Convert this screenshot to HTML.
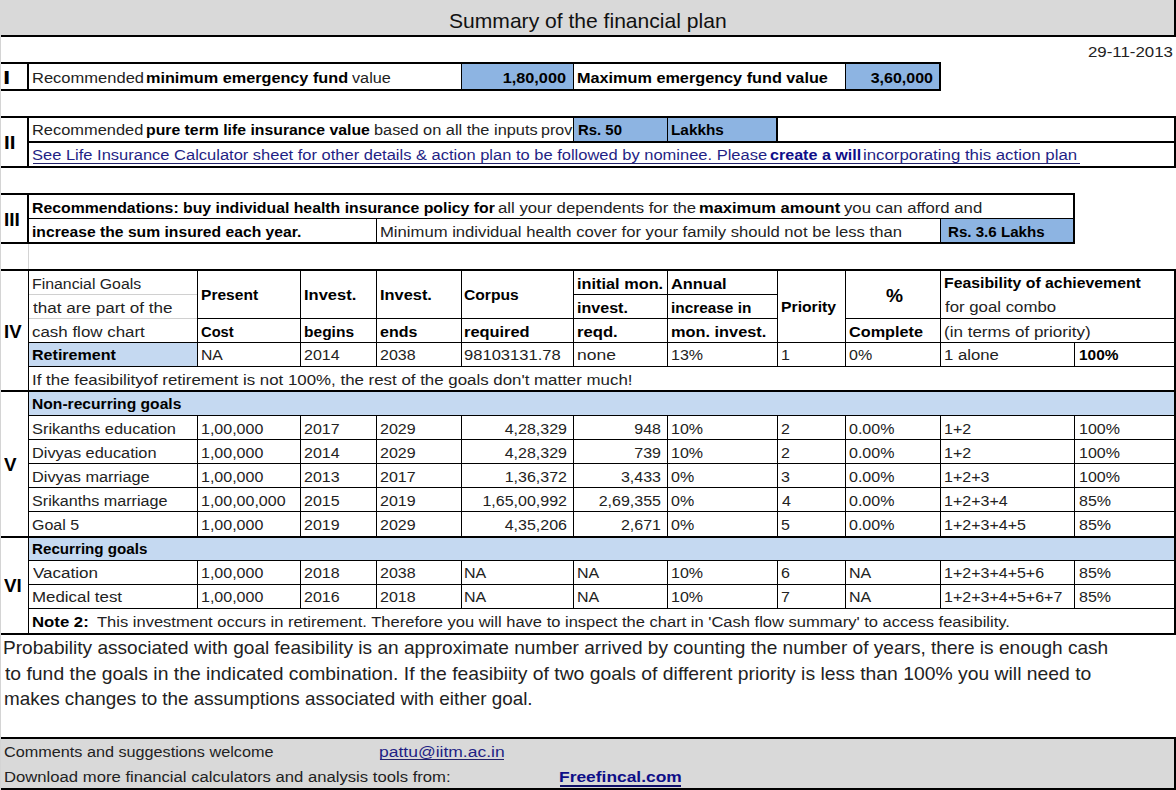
<!DOCTYPE html>
<html><head><meta charset="utf-8"><style>
html,body{margin:0;padding:0;background:#fff;width:1176px;height:790px;overflow:hidden;position:relative;}
body>div{position:absolute;}
.t{font-family:'Liberation Sans', sans-serif;white-space:pre;}
u{text-decoration:underline;text-decoration-thickness:1px;text-underline-offset:2px;}

</style></head><body>
<div style="left:0px;top:0px;width:1176px;height:35px;background:#d9d9d9;"></div>
<div style="left:1px;top:35px;width:1175px;height:2px;background:#000;"></div>
<div style="left:1174px;top:0px;width:2px;height:37px;background:#000;"></div>
<div style="left:0px;top:35px;width:1px;height:755px;background:#d4d4d4;"></div>
<div style="left:1px;top:62px;width:940px;height:2px;background:#000;"></div>
<div style="left:1px;top:89px;width:940px;height:2px;background:#000;"></div>
<div style="left:27px;top:62px;width:2px;height:29px;background:#000;"></div>
<div style="left:462px;top:64px;width:111px;height:25px;background:#8db4e2;"></div>
<div style="left:461px;top:64px;width:1px;height:25px;background:#000;"></div>
<div style="left:573px;top:64px;width:1px;height:25px;background:#000;"></div>
<div style="left:846px;top:64px;width:93px;height:25px;background:#8db4e2;"></div>
<div style="left:845px;top:64px;width:1px;height:25px;background:#000;"></div>
<div style="left:939px;top:62px;width:2px;height:29px;background:#000;"></div>
<div style="left:1px;top:116px;width:1175px;height:2px;background:#000;"></div>
<div style="left:29px;top:141px;width:1147px;height:2px;background:#000;"></div>
<div style="left:1px;top:166px;width:1175px;height:2px;background:#000;"></div>
<div style="left:27px;top:116px;width:2px;height:52px;background:#000;"></div>
<div style="left:1174px;top:116px;width:2px;height:52px;background:#000;"></div>
<div style="left:574px;top:118px;width:93px;height:23px;background:#8db4e2;z-index:2;"></div>
<div style="left:573px;top:118px;width:1px;height:23px;background:#000;z-index:2;"></div>
<div style="left:668px;top:118px;width:108px;height:23px;background:#8db4e2;z-index:2;"></div>
<div style="left:667px;top:118px;width:1px;height:23px;background:#000;z-index:2;"></div>
<div style="left:776px;top:116px;width:2px;height:27px;background:#000;z-index:2;"></div>
<div style="left:33px;top:163px;width:1047px;height:1px;background:#22226a;"></div>
<div style="left:1px;top:193px;width:1074px;height:2px;background:#000;"></div>
<div style="left:29px;top:218px;width:1045px;height:1px;background:#000;"></div>
<div style="left:1px;top:242px;width:1074px;height:2px;background:#000;"></div>
<div style="left:27px;top:193px;width:2px;height:51px;background:#000;"></div>
<div style="left:1073px;top:193px;width:2px;height:51px;background:#000;"></div>
<div style="left:376px;top:219px;width:1px;height:23px;background:#000;"></div>
<div style="left:941px;top:219px;width:132px;height:23px;background:#8db4e2;"></div>
<div style="left:940px;top:219px;width:1px;height:23px;background:#000;"></div>
<div style="left:28px;top:244px;width:1px;height:25px;background:#d4d4d4;"></div>
<div style="left:1px;top:269px;width:1175px;height:2px;background:#000;"></div>
<div style="left:29px;top:343px;width:168px;height:23px;background:#c5d9f1;"></div>
<div style="left:29px;top:392px;width:1145px;height:23px;background:#c5d9f1;"></div>
<div style="left:29px;top:538px;width:1145px;height:22px;background:#c5d9f1;"></div>
<div style="left:28px;top:271px;width:1px;height:362px;background:#000;"></div>
<div style="left:1174px;top:269px;width:2px;height:366px;background:#000;"></div>
<div style="left:29px;top:294px;width:168px;height:1px;background:#d0d0d0;"></div>
<div style="left:29px;top:318px;width:168px;height:1px;background:#d0d0d0;"></div>
<div style="left:573px;top:294px;width:204px;height:1px;background:#000;"></div>
<div style="left:197px;top:318px;width:580px;height:1px;background:#000;"></div>
<div style="left:845px;top:318px;width:329px;height:1px;background:#000;"></div>
<div style="left:197px;top:271px;width:1px;height:72px;background:#000;"></div>
<div style="left:300px;top:271px;width:1px;height:72px;background:#000;"></div>
<div style="left:376px;top:271px;width:1px;height:72px;background:#000;"></div>
<div style="left:461px;top:271px;width:1px;height:72px;background:#000;"></div>
<div style="left:573px;top:271px;width:1px;height:72px;background:#000;"></div>
<div style="left:667px;top:271px;width:1px;height:72px;background:#000;"></div>
<div style="left:777px;top:271px;width:1px;height:72px;background:#000;"></div>
<div style="left:845px;top:271px;width:1px;height:72px;background:#000;"></div>
<div style="left:940px;top:271px;width:1px;height:72px;background:#000;"></div>
<div style="left:28px;top:342px;width:1146px;height:1px;background:#000;"></div>
<div style="left:28px;top:366px;width:1146px;height:1px;background:#000;"></div>
<div style="left:1px;top:390px;width:1175px;height:2px;background:#000;"></div>
<div style="left:28px;top:415px;width:1146px;height:1px;background:#000;"></div>
<div style="left:28px;top:439px;width:1146px;height:1px;background:#000;"></div>
<div style="left:28px;top:463px;width:1146px;height:1px;background:#000;"></div>
<div style="left:28px;top:487px;width:1146px;height:1px;background:#000;"></div>
<div style="left:28px;top:511px;width:1146px;height:1px;background:#000;"></div>
<div style="left:1px;top:536px;width:1175px;height:2px;background:#000;"></div>
<div style="left:28px;top:560px;width:1146px;height:1px;background:#000;"></div>
<div style="left:28px;top:584px;width:1146px;height:1px;background:#000;"></div>
<div style="left:28px;top:608px;width:1146px;height:1px;background:#000;"></div>
<div style="left:1px;top:633px;width:1175px;height:2px;background:#000;"></div>
<div style="left:197px;top:343px;width:1px;height:23px;background:#000;"></div>
<div style="left:197px;top:416px;width:1px;height:120px;background:#000;"></div>
<div style="left:197px;top:561px;width:1px;height:47px;background:#000;"></div>
<div style="left:300px;top:343px;width:1px;height:23px;background:#000;"></div>
<div style="left:300px;top:416px;width:1px;height:120px;background:#000;"></div>
<div style="left:300px;top:561px;width:1px;height:47px;background:#000;"></div>
<div style="left:376px;top:343px;width:1px;height:23px;background:#000;"></div>
<div style="left:376px;top:416px;width:1px;height:120px;background:#000;"></div>
<div style="left:376px;top:561px;width:1px;height:47px;background:#000;"></div>
<div style="left:461px;top:343px;width:1px;height:23px;background:#000;"></div>
<div style="left:461px;top:416px;width:1px;height:120px;background:#000;"></div>
<div style="left:461px;top:561px;width:1px;height:47px;background:#000;"></div>
<div style="left:573px;top:343px;width:1px;height:23px;background:#000;"></div>
<div style="left:573px;top:416px;width:1px;height:120px;background:#000;"></div>
<div style="left:573px;top:561px;width:1px;height:47px;background:#000;"></div>
<div style="left:667px;top:343px;width:1px;height:23px;background:#000;"></div>
<div style="left:667px;top:416px;width:1px;height:120px;background:#000;"></div>
<div style="left:667px;top:561px;width:1px;height:47px;background:#000;"></div>
<div style="left:777px;top:343px;width:1px;height:23px;background:#000;"></div>
<div style="left:777px;top:416px;width:1px;height:120px;background:#000;"></div>
<div style="left:777px;top:561px;width:1px;height:47px;background:#000;"></div>
<div style="left:845px;top:343px;width:1px;height:23px;background:#000;"></div>
<div style="left:845px;top:416px;width:1px;height:120px;background:#000;"></div>
<div style="left:845px;top:561px;width:1px;height:47px;background:#000;"></div>
<div style="left:940px;top:343px;width:1px;height:23px;background:#000;"></div>
<div style="left:940px;top:416px;width:1px;height:120px;background:#000;"></div>
<div style="left:940px;top:561px;width:1px;height:47px;background:#000;"></div>
<div style="left:1074px;top:343px;width:1px;height:23px;background:#000;"></div>
<div style="left:1074px;top:416px;width:1px;height:120px;background:#000;"></div>
<div style="left:1074px;top:561px;width:1px;height:47px;background:#000;"></div>
<div style="left:1px;top:739px;width:1173px;height:49px;background:#d9d9d9;"></div>
<div style="left:1px;top:737px;width:1175px;height:2px;background:#000;"></div>
<div style="left:1174px;top:737px;width:2px;height:53px;background:#000;"></div>
<div style="left:1px;top:788px;width:1175px;height:2px;background:#000;"></div>
<div style="left:380px;top:759px;width:124px;height:1px;background:#22226a;"></div>
<div style="left:560px;top:785px;width:121px;height:2px;background:#10106a;"></div>
<div class="t" id="t0" style="left:449.00px;top:7.22px;font-size:21px;line-height:27px;color:#111;z-index:1;transform:scaleX(1.0036);transform-origin:0 0;"><span>Summary of the financial plan</span></div>
<div class="t" id="t1" style="left:1088.20px;top:41.83px;font-size:15.5px;line-height:20px;color:#222;z-index:1;transform:scaleX(1.0869);transform-origin:0 0;"><span>29-11-2013</span></div>
<div class="t" id="t2" style="left:3.00px;top:67.24px;font-size:17.5px;line-height:22px;color:#000;font-weight:bold;z-index:1;transform:scaleX(1.5000);transform-origin:0 0;"><span>I</span></div>
<div class="t" id="t3" style="left:32.00px;top:67.63px;font-size:15.5px;line-height:20px;color:#222;z-index:1;transform:scaleX(1.0657);transform-origin:0 0;"><span>Recommended</span></div>
<div class="t" id="t4" style="left:145.80px;top:67.63px;font-size:15.5px;line-height:20px;color:#000;font-weight:bold;z-index:1;transform:scaleX(1.0474);transform-origin:0 0;"><span>minimum emergency fund</span></div>
<div class="t" id="t5" style="left:352.40px;top:67.63px;font-size:15.5px;line-height:20px;color:#222;z-index:1;transform:scaleX(1.0478);transform-origin:0 0;"><span>value</span></div>
<div class="t" id="t6" style="left:-33.80px;top:67.63px;font-size:15.5px;line-height:20px;color:#000;font-weight:bold;z-index:1;width:600px;text-align:right;transform:scaleX(1.0501);transform-origin:100% 0;"><span>1,80,000</span></div>
<div class="t" id="t7" style="left:577.20px;top:67.63px;font-size:15.5px;line-height:20px;color:#000;font-weight:bold;z-index:1;transform:scaleX(1.0475);transform-origin:0 0;"><span>Maximum emergency fund value</span></div>
<div class="t" id="t8" style="left:333.00px;top:67.63px;font-size:15.5px;line-height:20px;color:#000;font-weight:bold;z-index:1;width:600px;text-align:right;transform:scaleX(1.0323);transform-origin:100% 0;"><span>3,60,000</span></div>
<div class="t" id="t9" style="left:3.80px;top:131.84px;font-size:17.5px;line-height:22px;color:#000;font-weight:bold;z-index:1;transform:scaleX(1.1779);transform-origin:0 0;"><span>II</span></div>
<div class="t" id="t10" style="left:32.00px;top:119.63px;font-size:15.5px;line-height:20px;color:#222;z-index:1;transform:scaleX(1.0588);transform-origin:0 0;"><span>Recommended</span></div>
<div class="t" id="t11" style="left:146.00px;top:119.63px;font-size:15.5px;line-height:20px;color:#000;font-weight:bold;z-index:1;transform:scaleX(1.0189);transform-origin:0 0;"><span>pure term life insurance value</span></div>
<div class="t" id="t12" style="left:374.20px;top:119.63px;font-size:15.5px;line-height:20px;color:#222;z-index:1;transform:scaleX(1.0549);transform-origin:0 0;"><span>based on all the inputs</span></div>
<div class="t" id="t13" style="left:540.80px;top:119.63px;font-size:15.5px;line-height:20px;color:#222;z-index:1;transform:scaleX(1.0323);transform-origin:0 0;"><span>provided</span></div>
<div class="t" id="t14" style="left:577.60px;top:119.63px;font-size:15.5px;line-height:20px;color:#000;font-weight:bold;z-index:3;transform:scaleX(0.9619);transform-origin:0 0;"><span>Rs. 50</span></div>
<div class="t" id="t15" style="left:670.80px;top:119.63px;font-size:15.5px;line-height:20px;color:#000;font-weight:bold;z-index:3;transform:scaleX(0.9884);transform-origin:0 0;"><span>Lakkhs</span></div>
<div class="t" id="t16" style="left:32.00px;top:144.93px;font-size:15.5px;line-height:20px;color:#1f1f85;z-index:1;transform:scaleX(1.0637);transform-origin:0 0;"><span>See Life Insurance Calculator sheet for other details &amp; action plan to be followed by nominee. Please</span></div>
<div class="t" id="t17" style="left:769.80px;top:144.93px;font-size:15.5px;line-height:20px;color:#0e0e88;font-weight:bold;z-index:1;transform:scaleX(1.0385);transform-origin:0 0;"><span>create a will</span></div>
<div class="t" id="t18" style="left:863.00px;top:144.93px;font-size:15.5px;line-height:20px;color:#1f1f85;z-index:1;transform:scaleX(1.0851);transform-origin:0 0;"><span>incorporating this action plan</span></div>
<div class="t" id="t19" style="left:3.80px;top:209.14px;font-size:17.5px;line-height:22px;color:#000;font-weight:bold;z-index:1;transform:scaleX(1.0912);transform-origin:0 0;"><span>III</span></div>
<div class="t" id="t20" style="left:32.00px;top:197.83px;font-size:15.5px;line-height:20px;color:#000;font-weight:bold;z-index:1;transform:scaleX(1.0197);transform-origin:0 0;"><span>Recommendations: buy individual health insurance policy for</span></div>
<div class="t" id="t21" style="left:498.20px;top:197.83px;font-size:15.5px;line-height:20px;color:#222;z-index:1;transform:scaleX(1.0797);transform-origin:0 0;"><span>all your dependents for the</span></div>
<div class="t" id="t22" style="left:699.00px;top:197.83px;font-size:15.5px;line-height:20px;color:#000;font-weight:bold;z-index:1;transform:scaleX(1.0642);transform-origin:0 0;"><span>maximum amount</span></div>
<div class="t" id="t23" style="left:844.20px;top:197.83px;font-size:15.5px;line-height:20px;color:#222;z-index:1;transform:scaleX(1.0786);transform-origin:0 0;"><span>you can afford and</span></div>
<div class="t" id="t24" style="left:31.60px;top:221.83px;font-size:15.5px;line-height:20px;color:#000;font-weight:bold;z-index:1;transform:scaleX(1.0118);transform-origin:0 0;"><span>increase the sum insured each year.</span></div>
<div class="t" id="t25" style="left:380.20px;top:221.83px;font-size:15.5px;line-height:20px;color:#222;z-index:1;transform:scaleX(1.0741);transform-origin:0 0;"><span>Minimum individual health cover for your family should not be less than</span></div>
<div class="t" id="t26" style="left:948.20px;top:221.83px;font-size:15.5px;line-height:20px;color:#000;font-weight:bold;z-index:1;transform:scaleX(0.9751);transform-origin:0 0;"><span>Rs. 3.6 Lakhs</span></div>
<div class="t" id="t27" style="left:4.40px;top:321.04px;font-size:17.5px;line-height:22px;color:#000;font-weight:bold;z-index:1;transform:scaleX(1.0612);transform-origin:0 0;"><span>IV</span></div>
<div class="t" id="t28" style="left:31.80px;top:273.83px;font-size:15.5px;line-height:20px;color:#222;z-index:1;transform:scaleX(1.0220);transform-origin:0 0;"><span>Financial Goals</span></div>
<div class="t" id="t29" style="left:33.00px;top:297.83px;font-size:15.5px;line-height:20px;color:#222;z-index:1;transform:scaleX(1.1016);transform-origin:0 0;"><span>that are part of the</span></div>
<div class="t" id="t30" style="left:32.00px;top:321.83px;font-size:15.5px;line-height:20px;color:#222;z-index:1;transform:scaleX(1.0911);transform-origin:0 0;"><span>cash flow chart</span></div>
<div class="t" id="t31" style="left:201.20px;top:284.83px;font-size:15.5px;line-height:20px;color:#000;font-weight:bold;z-index:1;transform:scaleX(1.0037);transform-origin:0 0;"><span>Present</span></div>
<div class="t" id="t32" style="left:201.20px;top:321.83px;font-size:15.5px;line-height:20px;color:#000;font-weight:bold;z-index:1;transform:scaleX(0.9495);transform-origin:0 0;"><span>Cost</span></div>
<div class="t" id="t33" style="left:303.60px;top:284.83px;font-size:15.5px;line-height:20px;color:#000;font-weight:bold;z-index:1;transform:scaleX(1.0632);transform-origin:0 0;"><span>Invest.</span></div>
<div class="t" id="t34" style="left:303.60px;top:321.83px;font-size:15.5px;line-height:20px;color:#000;font-weight:bold;z-index:1;transform:scaleX(1.0022);transform-origin:0 0;"><span>begins</span></div>
<div class="t" id="t35" style="left:379.80px;top:284.83px;font-size:15.5px;line-height:20px;color:#000;font-weight:bold;z-index:1;transform:scaleX(1.0567);transform-origin:0 0;"><span>Invest.</span></div>
<div class="t" id="t36" style="left:379.80px;top:321.83px;font-size:15.5px;line-height:20px;color:#000;font-weight:bold;z-index:1;transform:scaleX(1.0327);transform-origin:0 0;"><span>ends</span></div>
<div class="t" id="t37" style="left:464.40px;top:284.83px;font-size:15.5px;line-height:20px;color:#000;font-weight:bold;z-index:1;transform:scaleX(1.0079);transform-origin:0 0;"><span>Corpus</span></div>
<div class="t" id="t38" style="left:464.40px;top:321.83px;font-size:15.5px;line-height:20px;color:#000;font-weight:bold;z-index:1;transform:scaleX(1.0585);transform-origin:0 0;"><span>required</span></div>
<div class="t" id="t39" style="left:576.80px;top:273.83px;font-size:15.5px;line-height:20px;color:#000;font-weight:bold;z-index:1;transform:scaleX(1.0532);transform-origin:0 0;"><span>initial mon.</span></div>
<div class="t" id="t40" style="left:576.80px;top:297.83px;font-size:15.5px;line-height:20px;color:#000;font-weight:bold;z-index:1;transform:scaleX(1.0370);transform-origin:0 0;"><span>invest.</span></div>
<div class="t" id="t41" style="left:576.80px;top:321.83px;font-size:15.5px;line-height:20px;color:#000;font-weight:bold;z-index:1;transform:scaleX(1.0747);transform-origin:0 0;"><span>reqd.</span></div>
<div class="t" id="t42" style="left:671.00px;top:273.83px;font-size:15.5px;line-height:20px;color:#000;font-weight:bold;z-index:1;transform:scaleX(1.0577);transform-origin:0 0;"><span>Annual</span></div>
<div class="t" id="t43" style="left:671.00px;top:297.83px;font-size:15.5px;line-height:20px;color:#000;font-weight:bold;z-index:1;transform:scaleX(0.9923);transform-origin:0 0;"><span>increase in</span></div>
<div class="t" id="t44" style="left:671.00px;top:321.83px;font-size:15.5px;line-height:20px;color:#000;font-weight:bold;z-index:1;transform:scaleX(1.0535);transform-origin:0 0;"><span>mon. invest.</span></div>
<div class="t" id="t45" style="left:780.80px;top:297.43px;font-size:15.5px;line-height:20px;color:#000;font-weight:bold;z-index:1;transform:scaleX(1.0156);transform-origin:0 0;"><span>Priority</span></div>
<div class="t" id="t46" style="left:885.80px;top:283.52px;font-size:19px;line-height:24px;color:#000;font-weight:bold;z-index:1;transform:scaleX(1.0078);transform-origin:0 0;"><span>%</span></div>
<div class="t" id="t47" style="left:849.00px;top:321.83px;font-size:15.5px;line-height:20px;color:#000;font-weight:bold;z-index:1;transform:scaleX(1.0471);transform-origin:0 0;"><span>Complete</span></div>
<div class="t" id="t48" style="left:944.40px;top:272.83px;font-size:15.5px;line-height:20px;color:#000;font-weight:bold;z-index:1;transform:scaleX(1.0204);transform-origin:0 0;"><span>Feasibility of achievement</span></div>
<div class="t" id="t49" style="left:945.40px;top:296.83px;font-size:15.5px;line-height:20px;color:#222;z-index:1;transform:scaleX(1.0832);transform-origin:0 0;"><span>for goal combo</span></div>
<div class="t" id="t50" style="left:944.40px;top:321.83px;font-size:15.5px;line-height:20px;color:#222;z-index:1;transform:scaleX(1.0985);transform-origin:0 0;"><span>(in terms of priority)</span></div>
<div class="t" id="t51" style="left:32.00px;top:344.83px;font-size:15.5px;line-height:20px;color:#000;font-weight:bold;z-index:1;transform:scaleX(1.0368);transform-origin:0 0;"><span>Retirement</span></div>
<div class="t" id="t52" style="left:201.20px;top:344.83px;font-size:15.5px;line-height:20px;color:#222;z-index:1;transform:scaleX(1.0151);transform-origin:0 0;"><span>NA</span></div>
<div class="t" id="t53" style="left:303.60px;top:344.83px;font-size:15.5px;line-height:20px;color:#222;z-index:1;transform:scaleX(1.0323);transform-origin:0 0;"><span>2014</span></div>
<div class="t" id="t54" style="left:379.80px;top:344.83px;font-size:15.5px;line-height:20px;color:#222;z-index:1;transform:scaleX(1.0323);transform-origin:0 0;"><span>2038</span></div>
<div class="t" id="t55" style="left:464.40px;top:344.83px;font-size:15.5px;line-height:20px;color:#222;z-index:1;transform:scaleX(1.0687);transform-origin:0 0;"><span>98103131.78</span></div>
<div class="t" id="t56" style="left:576.80px;top:344.83px;font-size:15.5px;line-height:20px;color:#222;z-index:1;transform:scaleX(1.1285);transform-origin:0 0;"><span>none</span></div>
<div class="t" id="t57" style="left:671.00px;top:344.83px;font-size:15.5px;line-height:20px;color:#222;z-index:1;transform:scaleX(1.0323);transform-origin:0 0;"><span>13%</span></div>
<div class="t" id="t58" style="left:781.00px;top:344.83px;font-size:15.5px;line-height:20px;color:#222;z-index:1;transform:scaleX(1.0323);transform-origin:0 0;"><span>1</span></div>
<div class="t" id="t59" style="left:849.00px;top:344.83px;font-size:15.5px;line-height:20px;color:#222;z-index:1;transform:scaleX(1.0323);transform-origin:0 0;"><span>0%</span></div>
<div class="t" id="t60" style="left:944.40px;top:344.83px;font-size:15.5px;line-height:20px;color:#222;z-index:1;transform:scaleX(1.0771);transform-origin:0 0;"><span>1 alone</span></div>
<div class="t" id="t61" style="left:1078.60px;top:344.83px;font-size:15.5px;line-height:20px;color:#000;font-weight:bold;z-index:1;transform:scaleX(0.9949);transform-origin:0 0;"><span>100%</span></div>
<div class="t" id="t62" style="left:32.20px;top:369.83px;font-size:15.5px;line-height:20px;color:#222;z-index:1;transform:scaleX(1.0883);transform-origin:0 0;"><span>If the feasibilityof retirement is not 100%, the rest of the goals don't matter much!</span></div>
<div class="t" id="t63" style="left:32.20px;top:394.23px;font-size:15.5px;line-height:20px;color:#000;font-weight:bold;z-index:1;transform:scaleX(1.0083);transform-origin:0 0;"><span>Non-recurring goals</span></div>
<div class="t" id="t64" style="left:3.80px;top:454.14px;font-size:17.5px;line-height:22px;color:#000;font-weight:bold;z-index:1;transform:scaleX(1.0750);transform-origin:0 0;"><span>V</span></div>
<div class="t" id="t65" style="left:32.00px;top:418.63px;font-size:15.5px;line-height:20px;color:#222;z-index:1;transform:scaleX(1.0572);transform-origin:0 0;"><span>Srikanths education</span></div>
<div class="t" id="t66" style="left:201.20px;top:418.63px;font-size:15.5px;line-height:20px;color:#222;z-index:1;transform:scaleX(1.0323);transform-origin:0 0;"><span>1,00,000</span></div>
<div class="t" id="t67" style="left:303.60px;top:418.63px;font-size:15.5px;line-height:20px;color:#222;z-index:1;transform:scaleX(1.0323);transform-origin:0 0;"><span>2017</span></div>
<div class="t" id="t68" style="left:379.80px;top:418.63px;font-size:15.5px;line-height:20px;color:#222;z-index:1;transform:scaleX(1.0323);transform-origin:0 0;"><span>2029</span></div>
<div class="t" id="t69" style="left:-32.80px;top:418.63px;font-size:15.5px;line-height:20px;color:#222;z-index:1;width:600px;text-align:right;transform:scaleX(1.0323);transform-origin:100% 0;"><span>4,28,329</span></div>
<div class="t" id="t70" style="left:61.00px;top:418.63px;font-size:15.5px;line-height:20px;color:#222;z-index:1;width:600px;text-align:right;transform:scaleX(1.0323);transform-origin:100% 0;"><span>948</span></div>
<div class="t" id="t71" style="left:671.00px;top:418.63px;font-size:15.5px;line-height:20px;color:#222;z-index:1;transform:scaleX(1.0323);transform-origin:0 0;"><span>10%</span></div>
<div class="t" id="t72" style="left:781.00px;top:418.63px;font-size:15.5px;line-height:20px;color:#222;z-index:1;transform:scaleX(1.0323);transform-origin:0 0;"><span>2</span></div>
<div class="t" id="t73" style="left:849.00px;top:418.63px;font-size:15.5px;line-height:20px;color:#222;z-index:1;transform:scaleX(1.0323);transform-origin:0 0;"><span>0.00%</span></div>
<div class="t" id="t74" style="left:944.40px;top:418.63px;font-size:15.5px;line-height:20px;color:#222;z-index:1;transform:scaleX(1.0323);transform-origin:0 0;"><span>1+2</span></div>
<div class="t" id="t75" style="left:1078.60px;top:418.63px;font-size:15.5px;line-height:20px;color:#222;z-index:1;transform:scaleX(1.0323);transform-origin:0 0;"><span>100%</span></div>
<div class="t" id="t76" style="left:32.00px;top:442.63px;font-size:15.5px;line-height:20px;color:#222;z-index:1;transform:scaleX(1.0548);transform-origin:0 0;"><span>Divyas education</span></div>
<div class="t" id="t77" style="left:201.20px;top:442.63px;font-size:15.5px;line-height:20px;color:#222;z-index:1;transform:scaleX(1.0323);transform-origin:0 0;"><span>1,00,000</span></div>
<div class="t" id="t78" style="left:303.60px;top:442.63px;font-size:15.5px;line-height:20px;color:#222;z-index:1;transform:scaleX(1.0323);transform-origin:0 0;"><span>2014</span></div>
<div class="t" id="t79" style="left:379.80px;top:442.63px;font-size:15.5px;line-height:20px;color:#222;z-index:1;transform:scaleX(1.0323);transform-origin:0 0;"><span>2029</span></div>
<div class="t" id="t80" style="left:-32.80px;top:442.63px;font-size:15.5px;line-height:20px;color:#222;z-index:1;width:600px;text-align:right;transform:scaleX(1.0323);transform-origin:100% 0;"><span>4,28,329</span></div>
<div class="t" id="t81" style="left:61.00px;top:442.63px;font-size:15.5px;line-height:20px;color:#222;z-index:1;width:600px;text-align:right;transform:scaleX(1.0323);transform-origin:100% 0;"><span>739</span></div>
<div class="t" id="t82" style="left:671.00px;top:442.63px;font-size:15.5px;line-height:20px;color:#222;z-index:1;transform:scaleX(1.0323);transform-origin:0 0;"><span>10%</span></div>
<div class="t" id="t83" style="left:781.00px;top:442.63px;font-size:15.5px;line-height:20px;color:#222;z-index:1;transform:scaleX(1.0323);transform-origin:0 0;"><span>2</span></div>
<div class="t" id="t84" style="left:849.00px;top:442.63px;font-size:15.5px;line-height:20px;color:#222;z-index:1;transform:scaleX(1.0323);transform-origin:0 0;"><span>0.00%</span></div>
<div class="t" id="t85" style="left:944.40px;top:442.63px;font-size:15.5px;line-height:20px;color:#222;z-index:1;transform:scaleX(1.0323);transform-origin:0 0;"><span>1+2</span></div>
<div class="t" id="t86" style="left:1078.60px;top:442.63px;font-size:15.5px;line-height:20px;color:#222;z-index:1;transform:scaleX(1.0323);transform-origin:0 0;"><span>100%</span></div>
<div class="t" id="t87" style="left:32.00px;top:466.63px;font-size:15.5px;line-height:20px;color:#222;z-index:1;transform:scaleX(1.0505);transform-origin:0 0;"><span>Divyas marriage</span></div>
<div class="t" id="t88" style="left:201.20px;top:466.63px;font-size:15.5px;line-height:20px;color:#222;z-index:1;transform:scaleX(1.0323);transform-origin:0 0;"><span>1,00,000</span></div>
<div class="t" id="t89" style="left:303.60px;top:466.63px;font-size:15.5px;line-height:20px;color:#222;z-index:1;transform:scaleX(1.0323);transform-origin:0 0;"><span>2013</span></div>
<div class="t" id="t90" style="left:379.80px;top:466.63px;font-size:15.5px;line-height:20px;color:#222;z-index:1;transform:scaleX(1.0323);transform-origin:0 0;"><span>2017</span></div>
<div class="t" id="t91" style="left:-32.80px;top:466.63px;font-size:15.5px;line-height:20px;color:#222;z-index:1;width:600px;text-align:right;transform:scaleX(1.0323);transform-origin:100% 0;"><span>1,36,372</span></div>
<div class="t" id="t92" style="left:61.00px;top:466.63px;font-size:15.5px;line-height:20px;color:#222;z-index:1;width:600px;text-align:right;transform:scaleX(1.0323);transform-origin:100% 0;"><span>3,433</span></div>
<div class="t" id="t93" style="left:671.00px;top:466.63px;font-size:15.5px;line-height:20px;color:#222;z-index:1;transform:scaleX(1.0323);transform-origin:0 0;"><span>0%</span></div>
<div class="t" id="t94" style="left:781.00px;top:466.63px;font-size:15.5px;line-height:20px;color:#222;z-index:1;transform:scaleX(1.0323);transform-origin:0 0;"><span>3</span></div>
<div class="t" id="t95" style="left:849.00px;top:466.63px;font-size:15.5px;line-height:20px;color:#222;z-index:1;transform:scaleX(1.0323);transform-origin:0 0;"><span>0.00%</span></div>
<div class="t" id="t96" style="left:944.40px;top:466.63px;font-size:15.5px;line-height:20px;color:#222;z-index:1;transform:scaleX(1.0323);transform-origin:0 0;"><span>1+2+3</span></div>
<div class="t" id="t97" style="left:1078.60px;top:466.63px;font-size:15.5px;line-height:20px;color:#222;z-index:1;transform:scaleX(1.0323);transform-origin:0 0;"><span>100%</span></div>
<div class="t" id="t98" style="left:32.00px;top:490.63px;font-size:15.5px;line-height:20px;color:#222;z-index:1;transform:scaleX(1.0414);transform-origin:0 0;"><span>Srikanths marriage</span></div>
<div class="t" id="t99" style="left:201.20px;top:490.63px;font-size:15.5px;line-height:20px;color:#222;z-index:1;transform:scaleX(1.0323);transform-origin:0 0;"><span>1,00,00,000</span></div>
<div class="t" id="t100" style="left:303.60px;top:490.63px;font-size:15.5px;line-height:20px;color:#222;z-index:1;transform:scaleX(1.0323);transform-origin:0 0;"><span>2015</span></div>
<div class="t" id="t101" style="left:379.80px;top:490.63px;font-size:15.5px;line-height:20px;color:#222;z-index:1;transform:scaleX(1.0323);transform-origin:0 0;"><span>2019</span></div>
<div class="t" id="t102" style="left:-32.80px;top:490.63px;font-size:15.5px;line-height:20px;color:#222;z-index:1;width:600px;text-align:right;transform:scaleX(1.0323);transform-origin:100% 0;"><span>1,65,00,992</span></div>
<div class="t" id="t103" style="left:61.00px;top:490.63px;font-size:15.5px;line-height:20px;color:#222;z-index:1;width:600px;text-align:right;transform:scaleX(1.0323);transform-origin:100% 0;"><span>2,69,355</span></div>
<div class="t" id="t104" style="left:671.00px;top:490.63px;font-size:15.5px;line-height:20px;color:#222;z-index:1;transform:scaleX(1.0323);transform-origin:0 0;"><span>0%</span></div>
<div class="t" id="t105" style="left:782.00px;top:490.63px;font-size:15.5px;line-height:20px;color:#222;z-index:1;transform:scaleX(1.0323);transform-origin:0 0;"><span>4</span></div>
<div class="t" id="t106" style="left:849.00px;top:490.63px;font-size:15.5px;line-height:20px;color:#222;z-index:1;transform:scaleX(1.0323);transform-origin:0 0;"><span>0.00%</span></div>
<div class="t" id="t107" style="left:944.40px;top:490.63px;font-size:15.5px;line-height:20px;color:#222;z-index:1;transform:scaleX(1.0323);transform-origin:0 0;"><span>1+2+3+4</span></div>
<div class="t" id="t108" style="left:1078.60px;top:490.63px;font-size:15.5px;line-height:20px;color:#222;z-index:1;transform:scaleX(1.0323);transform-origin:0 0;"><span>85%</span></div>
<div class="t" id="t109" style="left:32.00px;top:514.63px;font-size:15.5px;line-height:20px;color:#222;z-index:1;transform:scaleX(1.0326);transform-origin:0 0;"><span>Goal 5</span></div>
<div class="t" id="t110" style="left:201.20px;top:514.63px;font-size:15.5px;line-height:20px;color:#222;z-index:1;transform:scaleX(1.0323);transform-origin:0 0;"><span>1,00,000</span></div>
<div class="t" id="t111" style="left:303.60px;top:514.63px;font-size:15.5px;line-height:20px;color:#222;z-index:1;transform:scaleX(1.0323);transform-origin:0 0;"><span>2019</span></div>
<div class="t" id="t112" style="left:379.80px;top:514.63px;font-size:15.5px;line-height:20px;color:#222;z-index:1;transform:scaleX(1.0323);transform-origin:0 0;"><span>2029</span></div>
<div class="t" id="t113" style="left:-32.80px;top:514.63px;font-size:15.5px;line-height:20px;color:#222;z-index:1;width:600px;text-align:right;transform:scaleX(1.0323);transform-origin:100% 0;"><span>4,35,206</span></div>
<div class="t" id="t114" style="left:61.00px;top:514.63px;font-size:15.5px;line-height:20px;color:#222;z-index:1;width:600px;text-align:right;transform:scaleX(1.0323);transform-origin:100% 0;"><span>2,671</span></div>
<div class="t" id="t115" style="left:671.00px;top:514.63px;font-size:15.5px;line-height:20px;color:#222;z-index:1;transform:scaleX(1.0323);transform-origin:0 0;"><span>0%</span></div>
<div class="t" id="t116" style="left:781.00px;top:514.63px;font-size:15.5px;line-height:20px;color:#222;z-index:1;transform:scaleX(1.0323);transform-origin:0 0;"><span>5</span></div>
<div class="t" id="t117" style="left:849.00px;top:514.63px;font-size:15.5px;line-height:20px;color:#222;z-index:1;transform:scaleX(1.0323);transform-origin:0 0;"><span>0.00%</span></div>
<div class="t" id="t118" style="left:944.40px;top:514.63px;font-size:15.5px;line-height:20px;color:#222;z-index:1;transform:scaleX(1.0323);transform-origin:0 0;"><span>1+2+3+4+5</span></div>
<div class="t" id="t119" style="left:1078.60px;top:514.63px;font-size:15.5px;line-height:20px;color:#222;z-index:1;transform:scaleX(1.0323);transform-origin:0 0;"><span>85%</span></div>
<div class="t" id="t120" style="left:31.80px;top:538.93px;font-size:15.5px;line-height:20px;color:#000;font-weight:bold;z-index:1;transform:scaleX(0.9783);transform-origin:0 0;"><span>Recurring goals</span></div>
<div class="t" id="t121" style="left:3.80px;top:575.14px;font-size:17.5px;line-height:22px;color:#000;font-weight:bold;z-index:1;transform:scaleX(1.0750);transform-origin:0 0;"><span>VI</span></div>
<div class="t" id="t122" style="left:33.00px;top:563.23px;font-size:15.5px;line-height:20px;color:#222;z-index:1;transform:scaleX(1.0984);transform-origin:0 0;"><span>Vacation</span></div>
<div class="t" id="t123" style="left:201.20px;top:563.23px;font-size:15.5px;line-height:20px;color:#222;z-index:1;transform:scaleX(1.0323);transform-origin:0 0;"><span>1,00,000</span></div>
<div class="t" id="t124" style="left:303.60px;top:563.23px;font-size:15.5px;line-height:20px;color:#222;z-index:1;transform:scaleX(1.0323);transform-origin:0 0;"><span>2018</span></div>
<div class="t" id="t125" style="left:379.80px;top:563.23px;font-size:15.5px;line-height:20px;color:#222;z-index:1;transform:scaleX(1.0323);transform-origin:0 0;"><span>2038</span></div>
<div class="t" id="t126" style="left:464.40px;top:563.23px;font-size:15.5px;line-height:20px;color:#222;z-index:1;transform:scaleX(1.0323);transform-origin:0 0;"><span>NA</span></div>
<div class="t" id="t127" style="left:576.80px;top:563.23px;font-size:15.5px;line-height:20px;color:#222;z-index:1;transform:scaleX(1.0323);transform-origin:0 0;"><span>NA</span></div>
<div class="t" id="t128" style="left:671.00px;top:563.23px;font-size:15.5px;line-height:20px;color:#222;z-index:1;transform:scaleX(1.0323);transform-origin:0 0;"><span>10%</span></div>
<div class="t" id="t129" style="left:781.00px;top:563.23px;font-size:15.5px;line-height:20px;color:#222;z-index:1;transform:scaleX(1.0323);transform-origin:0 0;"><span>6</span></div>
<div class="t" id="t130" style="left:849.00px;top:563.23px;font-size:15.5px;line-height:20px;color:#222;z-index:1;transform:scaleX(1.0323);transform-origin:0 0;"><span>NA</span></div>
<div class="t" id="t131" style="left:944.40px;top:563.23px;font-size:15.5px;line-height:20px;color:#222;z-index:1;transform:scaleX(1.0323);transform-origin:0 0;"><span>1+2+3+4+5+6</span></div>
<div class="t" id="t132" style="left:1078.60px;top:563.23px;font-size:15.5px;line-height:20px;color:#222;z-index:1;transform:scaleX(1.0323);transform-origin:0 0;"><span>85%</span></div>
<div class="t" id="t133" style="left:32.00px;top:587.13px;font-size:15.5px;line-height:20px;color:#222;z-index:1;transform:scaleX(1.0889);transform-origin:0 0;"><span>Medical test</span></div>
<div class="t" id="t134" style="left:201.20px;top:587.13px;font-size:15.5px;line-height:20px;color:#222;z-index:1;transform:scaleX(1.0323);transform-origin:0 0;"><span>1,00,000</span></div>
<div class="t" id="t135" style="left:303.60px;top:587.13px;font-size:15.5px;line-height:20px;color:#222;z-index:1;transform:scaleX(1.0323);transform-origin:0 0;"><span>2016</span></div>
<div class="t" id="t136" style="left:379.80px;top:587.13px;font-size:15.5px;line-height:20px;color:#222;z-index:1;transform:scaleX(1.0323);transform-origin:0 0;"><span>2018</span></div>
<div class="t" id="t137" style="left:464.40px;top:587.13px;font-size:15.5px;line-height:20px;color:#222;z-index:1;transform:scaleX(1.0323);transform-origin:0 0;"><span>NA</span></div>
<div class="t" id="t138" style="left:576.80px;top:587.13px;font-size:15.5px;line-height:20px;color:#222;z-index:1;transform:scaleX(1.0323);transform-origin:0 0;"><span>NA</span></div>
<div class="t" id="t139" style="left:671.00px;top:587.13px;font-size:15.5px;line-height:20px;color:#222;z-index:1;transform:scaleX(1.0323);transform-origin:0 0;"><span>10%</span></div>
<div class="t" id="t140" style="left:781.00px;top:587.13px;font-size:15.5px;line-height:20px;color:#222;z-index:1;transform:scaleX(1.0323);transform-origin:0 0;"><span>7</span></div>
<div class="t" id="t141" style="left:849.00px;top:587.13px;font-size:15.5px;line-height:20px;color:#222;z-index:1;transform:scaleX(1.0323);transform-origin:0 0;"><span>NA</span></div>
<div class="t" id="t142" style="left:944.40px;top:587.13px;font-size:15.5px;line-height:20px;color:#222;z-index:1;transform:scaleX(1.0323);transform-origin:0 0;"><span>1+2+3+4+5+6+7</span></div>
<div class="t" id="t143" style="left:1078.60px;top:587.13px;font-size:15.5px;line-height:20px;color:#222;z-index:1;transform:scaleX(1.0323);transform-origin:0 0;"><span>85%</span></div>
<div class="t" id="t144" style="left:32.00px;top:611.93px;font-size:15.5px;line-height:20px;color:#000;font-weight:bold;z-index:1;transform:scaleX(1.0797);transform-origin:0 0;"><span>Note 2:</span></div>
<div class="t" id="t145" style="left:96.80px;top:611.93px;font-size:15.5px;line-height:20px;color:#222;z-index:1;transform:scaleX(1.0659);transform-origin:0 0;"><span>This investment occurs in retirement. Therefore you will have to inspect the chart in 'Cash flow summary' to access feasibility.</span></div>
<div class="t" id="t146" style="left:3.00px;top:636.02px;font-size:19px;line-height:24px;color:#222;z-index:1;transform:scaleX(1.0043);transform-origin:0 0;"><span>Probability associated with goal feasibility is an approximate number arrived by counting the number of years, there is enough cash</span></div>
<div class="t" id="t147" style="left:5.00px;top:661.52px;font-size:19px;line-height:24px;color:#222;z-index:1;transform:scaleX(1.0177);transform-origin:0 0;"><span>to fund the goals in the indicated combination. If the feasibiity of two goals of different priority is less than 100% you will need to</span></div>
<div class="t" id="t148" style="left:4.00px;top:686.92px;font-size:19px;line-height:24px;color:#222;z-index:1;transform:scaleX(0.9930);transform-origin:0 0;"><span>makes changes to the assumptions associated with either goal.</span></div>
<div class="t" id="t149" style="left:4.00px;top:741.83px;font-size:15.5px;line-height:20px;color:#222;z-index:1;transform:scaleX(1.0459);transform-origin:0 0;"><span>Comments and suggestions welcome</span></div>
<div class="t" id="t150" style="left:379.00px;top:741.83px;font-size:15.5px;line-height:20px;color:#1f1f85;z-index:1;transform:scaleX(1.1284);transform-origin:0 0;"><span>pattu@iitm.ac.in</span></div>
<div class="t" id="t151" style="left:4.00px;top:767.23px;font-size:15.5px;line-height:20px;color:#222;z-index:1;transform:scaleX(1.0755);transform-origin:0 0;"><span>Download more financial calculators and analysis tools from:</span></div>
<div class="t" id="t152" style="left:559.00px;top:767.13px;font-size:15.5px;line-height:20px;color:#0e0e88;font-weight:bold;z-index:1;transform:scaleX(1.1227);transform-origin:0 0;"><span>Freefincal.com</span></div>
</body></html>
